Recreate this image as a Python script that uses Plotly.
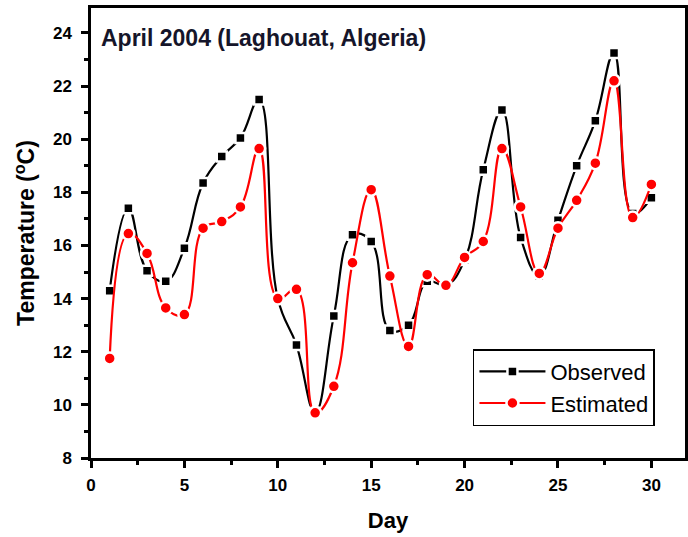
import plotly.graph_objects as go

days = list(range(1, 31))
observed = [14.3, 17.4, 15.05, 14.65, 15.9, 18.35, 19.35, 20.05, 21.5, 14.0,
            12.25, 9.7, 13.35, 16.4, 16.15, 12.8, 13.0, 14.65, 14.5, 15.45,
            18.85, 21.1, 16.3, 14.85, 16.95, 19.0, 20.7, 23.25, 17.2, 17.8]
estimated = [11.75, 16.45, 15.7, 13.65, 13.4, 16.65, 16.9, 17.45, 19.65, 14.0,
             14.35, 9.7, 10.7, 15.35, 18.1, 14.85, 12.2, 14.9, 14.5, 15.55,
             16.15, 19.65, 17.45, 14.95, 16.65, 17.7, 19.1, 22.2, 17.05, 18.3]

font_main = "Arial, Liberation Sans, sans-serif"

fig = go.Figure()
fig.add_trace(go.Scatter(
    x=days, y=observed, name="Observed", mode="lines+markers",
    line=dict(color="black", width=2.2, shape="spline", smoothing=1.2),
    marker=dict(symbol="square", size=10, color="black",
                line=dict(color="white", width=2.5)),
))
fig.add_trace(go.Scatter(
    x=days, y=estimated, name="Estimated", mode="lines+markers",
    line=dict(color="red", width=2.2, shape="spline", smoothing=1.2),
    marker=dict(symbol="circle", size=12, color="red",
                line=dict(color="white", width=2.5)),
))

fig.update_layout(
    width=688, height=537,
    margin=dict(l=91, r=3, t=8, b=79),
    plot_bgcolor="white", paper_bgcolor="white",
    showlegend=True,
    legend=dict(x=0.643, y=0.242, xanchor="left", yanchor="top",
                bordercolor="black", borderwidth=1.5, bgcolor="white",
                font=dict(family=font_main, size=22, color="black"),
                itemwidth=66, tracegroupgap=0,
                entrywidth=190, entrywidthmode="pixels"),
    annotations=[dict(
        text="<b>April 2004 (Laghouat, Algeria)</b>",
        xref="paper", yref="paper", x=0.014, y=0.967,
        xanchor="left", yanchor="top", showarrow=False,
        font=dict(family=font_main, size=23, color="#15152a"))],
)

fig.update_xaxes(
    range=[0, 31.8], tickmode="array", tickvals=[0, 5, 10, 15, 20, 25, 30],
    showline=True, linecolor="black", linewidth=2.5, mirror=True,
    ticks="outside", ticklen=7, tickwidth=2.5, tickcolor="black",
    minor=dict(ticks="outside", ticklen=4, tickwidth=2.5, tickcolor="black", dtick=2.5, tick0=0),
    showgrid=False, zeroline=False, automargin=False, ticklabelstandoff=3,
    tickfont=dict(family=font_main, size=17, color="black", weight="bold"),
    title=dict(text="<b>Day</b>", font=dict(family=font_main, size=22, color="black"), standoff=19),
)
fig.update_yaxes(
    range=[8, 24.94], tickmode="array", tickvals=[8, 10, 12, 14, 16, 18, 20, 22, 24],
    showline=True, linecolor="black", linewidth=2.5, mirror=True,
    ticks="outside", ticklen=7, tickwidth=2.5, tickcolor="black",
    minor=dict(ticks="outside", ticklen=4, tickwidth=2.5, tickcolor="black", dtick=1, tick0=8),
    showgrid=False, zeroline=False, automargin=False, ticklabelstandoff=6,
    tickfont=dict(family=font_main, size=17, color="black", weight="bold"),
    title=dict(text="<b>Temperature (<sup>o</sup>C)</b>", font=dict(family=font_main, size=23, color="black"), standoff=12),
)

fig.write_html("out.html", config={"displayModeBar": False},
               post_script="document.body.style.margin='0';")
